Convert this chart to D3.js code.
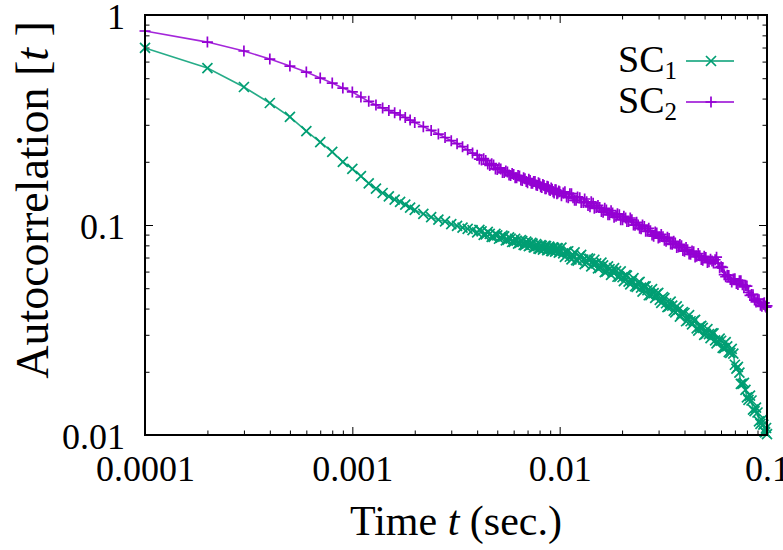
<!DOCTYPE html>
<html>
<head>
<meta charset="utf-8">
<script src="https://cdn.jsdelivr.net/npm/d3@7"></script>
<style>
body { margin: 0; background: #fff; }
svg { display: block; }
</style>
</head>
<body>
<div id="chart"></div>
<script>
// lag times (sec.)
const time = [
  0.0001,0.0002,0.0003,0.0004,0.0005,0.0006,0.0007,0.0008,0.0009,0.0010,
  0.0011,0.0012,0.0013,0.0014,0.0015,0.0016,0.0017,0.0018,0.0019,0.0020,
  0.0022,0.0024,0.0026,0.0028,0.0030,0.0032,0.0034,0.0036,0.0038,0.0040,
  0.0042,0.0044,0.0046,0.0048,0.0050,0.0052,0.0054,0.0056,0.0058,0.0060,
  0.0062,0.0064,0.0066,0.0068,0.0070,0.0072,0.0074,0.0076,0.0078,0.0080,
  0.0082,0.0084,0.0086,0.0088,0.0090,0.0092,0.0094,0.0096,0.0098,0.0100,
  0.0104,0.0108,0.0112,0.0116,0.0120,0.0125,0.0130,0.0135,0.0140,0.0145,
  0.0150,0.0156,0.0162,0.0168,0.0174,0.0180,0.0187,0.0194,0.0201,0.0208,
  0.0215,0.0223,0.0231,0.0239,0.0247,0.0256,0.0265,0.0274,0.0284,0.0294,
  0.0304,0.0315,0.0326,0.0337,0.0349,0.0361,0.0374,0.0387,0.0400,0.0414,
  0.0428,0.0443,0.0458,0.0474,0.0490,0.0507,0.0525,0.0543,0.0562,0.0581,
  0.0601,0.0622,0.0643,0.0665,0.0688,0.0712,0.0736,0.0761,0.0787,0.0814,
  0.0842,0.0871,0.0900,0.0930,0.0960,0.0980,0.1000
]

// SC1 autocorrelation at `time`
const sc1 = [
  0.697,0.559,0.454,0.381,0.327,0.280,0.248,0.223,0.200,0.185,
  0.171,0.158,0.149,0.142,0.137,0.132,0.129,0.125,0.121,0.118,
  0.113,0.109,0.106,0.104,0.101,0.0990,0.0972,0.0958,0.0946,0.0923,
  0.0932,0.0902,0.0907,0.0878,0.0893,0.0870,0.0882,0.0849,0.0861,0.0831,
  0.0842,0.0822,0.0838,0.0801,0.0822,0.0799,0.0815,0.0784,0.0800,0.0770,
  0.0796,0.0771,0.0793,0.0761,0.0779,0.0751,0.0777,0.0753,0.0774,0.0744,
  0.0733,0.0747,0.0706,0.0720,0.0681,0.0709,0.0684,0.0661,0.0689,0.0650,
  0.0656,0.0624,0.0642,0.0599,0.0616,0.0600,0.0603,0.0567,0.0564,0.0578,
  0.0538,0.0545,0.0511,0.0530,0.0503,0.0510,0.0489,0.0463,0.0474,0.0470,
  0.0440,0.0454,0.0424,0.0410,0.0413,0.0384,0.0395,0.0377,0.0381,0.0352,
  0.0348,0.0350,0.0322,0.0328,0.0324,0.0303,0.0302,0.0305,0.0282,0.0279,
  0.0281,0.0259,0.0264,0.0246,0.0244,0.0207,0.0198,0.0175,0.0164,0.0147,
  0.0146,0.0130,0.0128,0.0113,0.0112,0.0103,0.0101
]

// SC2 autocorrelation at `time`
const sc2 = [
  0.839,0.743,0.674,0.617,0.571,0.535,0.501,0.474,0.449,0.430,
  0.407,0.388,0.373,0.361,0.351,0.342,0.334,0.325,0.316,0.308,
  0.294,0.282,0.271,0.261,0.252,0.244,0.236,0.228,0.220,0.215,
  0.204,0.203,0.192,0.193,0.184,0.185,0.178,0.179,0.172,0.174,
  0.168,0.171,0.163,0.166,0.159,0.163,0.158,0.161,0.154,0.157,
  0.151,0.154,0.149,0.152,0.146,0.148,0.142,0.147,0.142,0.144,
  0.142,0.136,0.141,0.135,0.131,0.135,0.128,0.129,0.122,0.127,
  0.121,0.121,0.115,0.118,0.112,0.114,0.110,0.112,0.106,0.108,
  0.104,0.106,0.0998,0.100,0.0960,0.0984,0.0934,0.0939,0.0884,0.0917,
  0.0874,0.0880,0.0837,0.0863,0.0809,0.0820,0.0785,0.0797,0.0750,0.0762,
  0.0725,0.0745,0.0710,0.0713,0.0680,0.0701,0.0668,0.0674,0.0683,0.0656,
  0.0633,0.0580,0.0577,0.0550,0.0553,0.0526,0.0543,0.0519,0.0514,0.0477,
  0.0467,0.0439,0.0444,0.0415,0.0423,0.0411,0.0412
]

// extra samples read in the dense (noisy) part of the curves
const timeExtra = [
  0.0041,0.0043,0.0045,0.0047,0.0049,0.0051,0.0053,0.0055,0.0057,0.0059,
  0.0061,0.0063,0.0065,0.0067,0.0069,0.0071,0.0073,0.0075,0.0077,0.0079,
  0.0081,0.0083,0.0085,0.0087,0.0089,0.0091,0.0093,0.0095,0.0097,0.0099,
  0.0102,0.0106,0.0110,0.0114,0.0118,0.0122,0.0127,0.0132,0.0137,0.0142,
  0.0147,0.0153,0.0159,0.0165,0.0171,0.0177,0.0183,0.0190,0.0197,0.0204,
  0.0211,0.0219,0.0227,0.0235,0.0243,0.0251,0.0260,0.0269,0.0279,0.0289,
  0.0299,0.0309,0.0320,0.0331,0.0343,0.0355,0.0367,0.0380,0.0393,0.0407,
  0.0421,0.0435,0.0450,0.0466,0.0482,0.0498,0.0516,0.0534,0.0552,0.0571,
  0.0591,0.0611,0.0632,0.0654,0.0676,0.0700,0.0724,0.0748,0.0774,0.0800,
  0.0828,0.0856,0.0885,0.0915,0.0945,0.0970,0.0990
]

const sc1Extra = [
  0.0949,0.0897,0.0927,0.0878,0.0907,0.0860,0.0890,0.0844,0.0874,0.0830,
  0.0860,0.0816,0.0847,0.0804,0.0834,0.0793,0.0823,0.0782,0.0812,0.0772,
  0.0802,0.0764,0.0795,0.0758,0.0789,0.0752,0.0783,0.0747,0.0777,0.0739,
  0.0780,0.0705,0.0750,0.0686,0.0740,0.0677,0.0720,0.0651,0.0694,0.0635,
  0.0683,0.0622,0.0662,0.0597,0.0635,0.0579,0.0623,0.0567,0.0602,0.0541,
  0.0574,0.0521,0.0558,0.0507,0.0536,0.0482,0.0510,0.0463,0.0495,0.0450,
  0.0475,0.0426,0.0449,0.0406,0.0432,0.0390,0.0410,0.0366,0.0385,0.0348,
  0.0372,0.0336,0.0353,0.0314,0.0331,0.0300,0.0319,0.0289,0.0305,0.0273,
  0.0288,0.0260,0.0277,0.0248,0.0257,0.0216,0.0211,0.0175,0.0177,0.0151,
  0.0154,0.0132,0.0135,0.0116,0.0118,0.0104,0.0108
]

const sc2Extra = [
  0.206,0.207,0.195,0.196,0.185,0.187,0.178,0.181,0.173,0.176,
  0.168,0.172,0.164,0.168,0.161,0.165,0.158,0.161,0.155,0.159,
  0.152,0.156,0.149,0.153,0.147,0.150,0.144,0.147,0.141,0.145,
  0.138,0.144,0.135,0.141,0.131,0.136,0.128,0.133,0.124,0.129,
  0.120,0.124,0.116,0.120,0.112,0.117,0.109,0.113,0.106,0.110,
  0.104,0.108,0.100,0.103,0.0965,0.0999,0.0933,0.0964,0.0897,0.0925,
  0.0866,0.0902,0.0845,0.0874,0.0813,0.0837,0.0781,0.0808,0.0757,0.0781,
  0.0727,0.0752,0.0704,0.0731,0.0685,0.0710,0.0662,0.0686,0.0659,0.0703,
  0.0626,0.0628,0.0567,0.0575,0.0536,0.0554,0.0521,0.0543,0.0507,0.0512,
  0.0462,0.0466,0.0430,0.0441,0.0410,0.0426,0.0406
]

const xTicks = [0.0001, 0.001, 0.01, 0.1]
const xTickLabels = ['0.0001', '0.001', '0.01', '0.1']
const xMinor = [2,3,4,5,6,7,8,9].flatMap(m => [m * 0.0001, m * 0.001, m * 0.01])
const yTicks = [0.01, 0.1, 1]
const yTickLabels = ['0.01', '0.1', '1']
const yMinor = [2,3,4,5,6,7,8,9].flatMap(m => [m * 0.01, m * 0.1])

const seriesNames = ['1', '2']
const COLORS = ['#009e73', '#9400d3']
const FONT = '"Liberation Serif", "Times New Roman", serif'

const W = 783, H = 550
const L = 145, R = 767, T = 15, B = 435
const MAJOR = 8, MINOR = 4.5

const svg = d3.select('#chart').append('svg')
    .attr('width', W)
    .attr('height', H)
    .style('font-family', FONT)

const x = d3.scaleLog().domain([0.0001, 0.1]).range([L, R])
const y = d3.scaleLog().domain([0.01, 1]).range([B, T])

// ticks on all four sides, pointing inward
function tickGroup (axis, transform) {
    const g = svg.append('g').attr('transform', transform).call(axis)
    g.select('.domain').remove()
    g.selectAll('.tick line').attr('stroke', '#000').attr('stroke-width', 1)
    g.selectAll('.tick text').style('font-family', FONT).attr('fill', '#000')
    return g
}

tickGroup(d3.axisBottom(x).tickValues(xMinor).tickSize(-MINOR).tickFormat(''), `translate(0,${B})`)
tickGroup(d3.axisTop(x).tickValues(xMinor).tickSize(-MINOR).tickFormat(''), `translate(0,${T})`)
tickGroup(d3.axisLeft(y).tickValues(yMinor).tickSize(-MINOR).tickFormat(''), `translate(${L},0)`)
tickGroup(d3.axisRight(y).tickValues(yMinor).tickSize(-MINOR).tickFormat(''), `translate(${R},0)`)
tickGroup(d3.axisTop(x).tickValues(xTicks).tickSize(-MAJOR).tickFormat(''), `translate(0,${T})`)
tickGroup(d3.axisRight(y).tickValues(yTicks).tickSize(-MAJOR).tickFormat(''), `translate(${R},0)`)

const xa = tickGroup(d3.axisBottom(x).tickValues(xTicks).tickSize(-MAJOR).tickPadding(20)
    .tickFormat((d, i) => xTickLabels[i]), `translate(0,${B})`)
xa.selectAll('.tick text').attr('font-size', 36)

const ya = tickGroup(d3.axisLeft(y).tickValues(yTicks).tickSize(-MAJOR).tickPadding(20)
    .tickFormat((d, i) => yTickLabels[i]), `translate(${L},0)`)
ya.selectAll('.tick text').attr('font-size', 36).attr('dy', '0.38em')

// series
const markers = [
    'M-5,-5L5,5M-5,5L5,-5',
    'M-5.5,0L5.5,0M0,-5.5L0,5.5'
]
const line = d3.line().x(d => x(d[0])).y(d => y(d[1]))

const seriesData = [[sc1, sc1Extra], [sc2, sc2Extra]].map(([vals, extra]) =>
    time.map((t, i) => [t, vals[i]])
        .concat(timeExtra.map((t, i) => [t, extra[i]]))
        .sort((a, b) => a[0] - b[0]))

seriesData.forEach((data, s) => {
    const g = svg.append('g')
    g.append('path')
        .datum(data)
        .attr('d', line)
        .attr('fill', 'none')
        .attr('stroke', COLORS[s])
        .attr('stroke-width', 1.6)
        .attr('stroke-opacity', 0.85)
    g.selectAll('path.pt')
        .data(data)
        .join('path')
            .attr('class', 'pt')
            .attr('transform', d => `translate(${x(d[0])},${y(d[1])})`)
            .attr('d', markers[s])
            .attr('stroke', COLORS[s])
            .attr('stroke-width', 1.7)
            .attr('fill', 'none')
})

// border
svg.append('rect')
    .attr('x', L).attr('y', T)
    .attr('width', R - L).attr('height', B - T)
    .attr('fill', 'none')
    .attr('stroke', '#000')
    .attr('stroke-width', 2)

// legend
const legendY = [61, 102]
seriesNames.forEach((n, s) => {
    const t = svg.append('text')
        .attr('x', 677)
        .attr('y', legendY[s] + 11)
        .attr('text-anchor', 'end')
        .attr('font-size', 38)
    t.append('tspan').text('SC')
    t.append('tspan').attr('font-size', 25).attr('dy', 7).text(n)
    svg.append('line')
        .attr('x1', 686).attr('x2', 734)
        .attr('y1', legendY[s]).attr('y2', legendY[s])
        .attr('stroke', COLORS[s])
        .attr('stroke-width', 1.6)
    svg.append('path')
        .attr('transform', `translate(711,${legendY[s]})`)
        .attr('d', markers[s])
        .attr('stroke', COLORS[s])
        .attr('stroke-width', 1.7)
        .attr('fill', 'none')
})

// axis titles
const xt = svg.append('text')
    .attr('x', (L + R) / 2)
    .attr('y', 535)
    .attr('text-anchor', 'middle')
    .attr('font-size', 42)
xt.append('tspan').text('Time ')
xt.append('tspan').attr('font-style', 'italic').text('t')
xt.append('tspan').text(' (sec.)')

const yt = svg.append('text')
    .attr('transform', `translate(48,200) rotate(-90)`)
    .attr('text-anchor', 'middle')
    .attr('font-size', 46)
yt.append('tspan').text('Autocorrelation [')
yt.append('tspan').attr('font-style', 'italic').text('t')
yt.append('tspan').text(' ]')
</script>
</body>
</html>
